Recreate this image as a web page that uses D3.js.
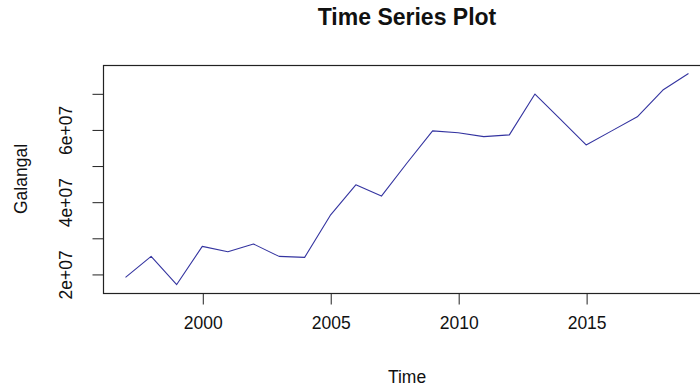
<!DOCTYPE html>
<html>
<head>
<meta charset="utf-8">
<script src="https://cdn.jsdelivr.net/npm/d3@7"></script>
<style>
  html, body { margin: 0; padding: 0; background: #fff; }
  svg { display: block; font-family: "Liberation Sans", Arial, sans-serif; }
</style>
</head>
<body>
<svg id="chart" width="700" height="392"></svg>
<script>
// Annual Galangal series, 1997-2019
const years = [1997, 1998, 1999, 2000, 2001, 2002, 2003, 2004, 2005, 2006, 2007, 2008,
               2009, 2010, 2011, 2012, 2013, 2014, 2015, 2016, 2017, 2018, 2019];
const galangal = [1.906e7, 2.486e7, 1.706e7, 2.763e7, 2.616e7, 2.829e7, 2.486e7, 2.459e7,
                  3.619e7, 4.467e7, 4.155e7, 5.07e7, 5.959e7, 5.91e7, 5.80e7, 5.85e7,
                  6.98e7, 6.28e7, 5.57e7, 5.96e7, 6.35e7, 7.09e7, 7.55e7];
const xTicks = [2000, 2005, 2010, 2015];
const yTicks = [2e7, 3e7, 4e7, 5e7, 6e7, 7e7];
const yTickLabels = ["2e+07", "", "4e+07", "", "6e+07", ""];

const svg = d3.select("#chart");
const plot = { left: 103, right: 711, top: 65, bottom: 293 };

// pad both domains by 4% of the data range on each side
function padded(ext) {
  const d = (ext[1] - ext[0]) * 0.04;
  return [ext[0] - d, ext[1] + d];
}

const x = d3.scaleLinear().domain(padded(d3.extent(years))).range([plot.left, plot.right]);
const y = d3.scaleLinear().domain(padded(d3.extent(galangal))).range([plot.bottom, plot.top]);

const ink = "#222";

// series line
const line = d3.line().x((d, i) => x(years[i])).y(d => y(d));
svg.append("path")
  .datum(galangal)
  .attr("d", line)
  .attr("fill", "none")
  .attr("stroke", "#3434a0")
  .attr("stroke-width", 1.1)
  .attr("stroke-linejoin", "round");

// plot frame
svg.append("rect")
  .attr("x", plot.left + 0.5).attr("y", plot.top + 0.5)
  .attr("width", plot.right - plot.left).attr("height", plot.bottom - plot.top)
  .attr("fill", "none").attr("stroke", ink).attr("stroke-width", 1.2);

// x axis
const xAxis = d3.axisBottom(x).tickValues(xTicks).tickSize(11).tickSizeOuter(0)
  .tickFormat(d3.format("d")).tickPadding(12);
const gx = svg.append("g").attr("transform", `translate(0.5,${plot.bottom + 0.5})`).call(xAxis);
gx.select(".domain").remove();
gx.selectAll(".tick line").attr("stroke", ink);
gx.selectAll(".tick text").attr("fill", "#111").attr("font-size", 17.5);

// y axis with rotated labels
const yAxis = d3.axisLeft(y).tickValues(yTicks).tickSize(11).tickSizeOuter(0)
  .tickFormat((d, i) => yTickLabels[i]);
const gy = svg.append("g").attr("transform", `translate(${plot.left + 0.5},0.5)`).call(yAxis);
gy.select(".domain").remove();
gy.selectAll(".tick line").attr("stroke", ink);
gy.selectAll(".tick text")
  .attr("fill", "#111").attr("font-size", 17.5)
  .attr("x", null).attr("dy", null)
  .attr("text-anchor", "middle")
  .attr("transform", "translate(-32,0) rotate(-90)");

// titles
svg.append("text")
  .attr("x", (plot.left + plot.right) / 2).attr("y", 25)
  .attr("text-anchor", "middle").attr("font-weight", "bold").attr("font-size", 23)
  .attr("fill", "#111").text("Time Series Plot");

svg.append("text")
  .attr("x", (plot.left + plot.right) / 2).attr("y", 383)
  .attr("text-anchor", "middle").attr("font-size", 17.5).attr("fill", "#111").text("Time");

svg.append("text")
  .attr("transform", `translate(27,${(plot.top + plot.bottom) / 2}) rotate(-90)`)
  .attr("text-anchor", "middle").attr("font-size", 17.5).attr("fill", "#111").text("Galangal");
</script>
</body>
</html>
